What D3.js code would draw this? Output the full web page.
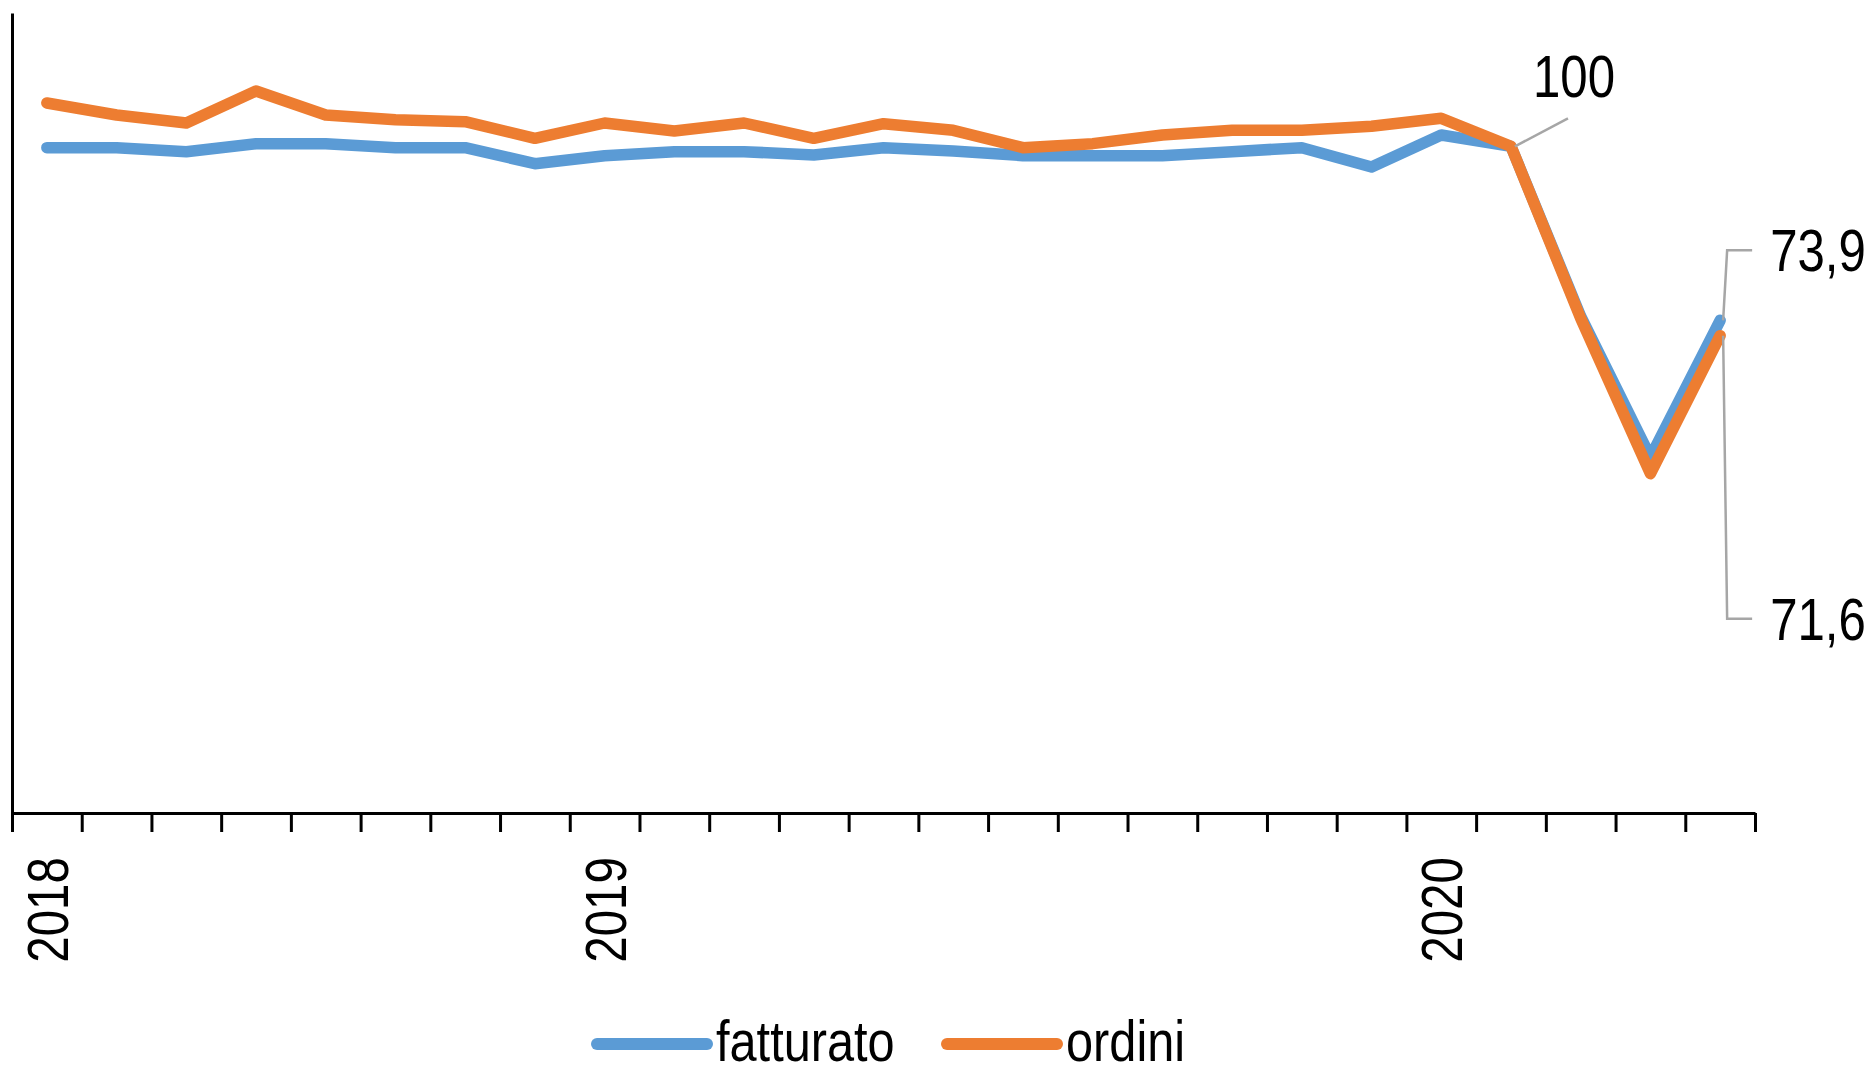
<!DOCTYPE html>
<html>
<head>
<meta charset="utf-8">
<title>fatturato e ordini</title>
<script src="https://d3js.org/d3.v7.min.js"></script>
<style>
  body { margin: 0; background: #fff; }
  text { font-family: "Liberation Sans Narrow", "Arial Narrow", "Liberation Sans", sans-serif; fill: #000; }
  .axis path, .axis line { stroke: #000; stroke-width: 3; }
  .serie { fill: none; stroke-width: 11.5; stroke-linecap: round; stroke-linejoin: round; }
  .leader { fill: none; stroke: #a6a6a6; stroke-width: 2.5; }
</style>
</head>
<body>
<div id="chart"></div>
<script>
// etichette dell'asse x (una per mese, solo gli anni sono mostrati)
var categorie = ["2018","","","","","","","","2019","","","","","","","","","","","","2020","","","",""];

// indici (feb 2020 = 100)
var fatturato = [99.8, 99.8, 99.2, 100.4, 100.4, 99.8, 99.8, 97.4, 98.6, 99.2, 99.2, 98.7, 99.8,
                 99.3, 98.6, 98.6, 98.6, 99.2, 99.8, 96.9, 101.7, 100, 74.5, 53.4, 73.9];
var ordini    = [106.5, 104.7, 103.5, 108.3, 104.7, 104.0, 103.7, 101.2, 103.5, 102.3, 103.5, 101.2, 103.4,
                 102.4, 99.8, 100.4, 101.7, 102.4, 102.4, 103.0, 104.2, 100, 74.2, 50.9, 71.6];

var serie = [
  {nome: "fatturato", valori: fatturato, colore: "#5b9bd5"},
  {nome: "ordini", valori: ordini, colore: "#ed7d31"}
];

(function() {
var W = 1872, H = 1073;
var svg = d3.select("#chart").append("svg").attr("width", W).attr("height", H);

var mLeft = 12, mRight = 1755, mBottom = 813, mTop = 13;
var narrow = "scale(0.82,1)"; // carattere stretto (Arial Narrow)

var x = d3.scaleBand().domain(d3.range(categorie.length)).range([mLeft, mRight]).padding(0);
var xEdge = d3.scaleLinear().domain([0, categorie.length]).range([mLeft, mRight]);
var y = d3.scaleLinear().domain([0, 120]).range([mBottom, mTop]);

function cx(i) { return x(i) + x.bandwidth() / 2; }

// asse y (solo la linea)
svg.append("g")
  .attr("class", "axis")
  .attr("transform", "translate(" + mLeft + ",0)")
  .call(d3.axisLeft(y).tickValues([]).tickSizeOuter(0));

// asse x con tacche tra le categorie
svg.append("g")
  .attr("class", "axis")
  .attr("transform", "translate(0," + mBottom + ")")
  .call(d3.axisBottom(xEdge).tickValues(d3.range(categorie.length + 1)).tickSize(19).tickSizeOuter(0).tickFormat(""));

svg.selectAll(".anno")
  .data(categorie.map(function(c, i) { return {c: c, i: i}; }).filter(function(d) { return d.c; }))
  .enter()
  .append("text")
  .attr("class", "anno")
  .attr("transform", function(d) { return "translate(" + (cx(d.i) + 21) + ",857) rotate(-90) " + narrow; })
  .attr("text-anchor", "end")
  .style("font-size", "58px")
  .text(function(d) { return d.c; });

var line = d3.line()
  .x(function(d, i) { return cx(i); })
  .y(function(d) { return y(d); });

svg.selectAll(".serie")
  .data(serie)
  .enter()
  .append("path")
  .attr("class", "serie")
  .attr("stroke", function(d) { return d.colore; })
  .attr("d", function(d) { return line(d.valori); });

// etichette dei dati
var n = categorie.length - 1;
var iBase = 21;
var pb = [cx(iBase), y(ordini[iBase])];
svg.append("path").attr("class", "leader")
  .attr("d", "M" + (pb[0] + 4) + "," + pb[1] + "L" + (pb[0] + 57) + "," + (pb[1] - 28));
svg.append("text")
  .attr("transform", "translate(" + (pb[0] + 22) + "," + (pb[1] - 49) + ") " + narrow)
  .style("font-size", "60px")
  .text(d3.format(".0f")(ordini[iBase]));

var fmt = function(v) { return d3.format(".1f")(v).replace(".", ","); };
var pe = [
  {v: fatturato[n], dy: -70},
  {v: ordini[n], dy: 283}
];
pe.forEach(function(p) {
  var px = cx(n), py = y(p.v), ly = py + p.dy;
  svg.append("path").attr("class", "leader")
    .attr("d", "M" + (px + 3) + "," + py + "L" + (px + 7) + "," + ly + "L" + (px + 32) + "," + ly);
  svg.append("text")
    .attr("transform", "translate(" + (px + 50) + "," + (ly + 21) + ") " + narrow)
    .style("font-size", "60px")
    .text(fmt(p.v));
});

// legenda
var legenda = svg.selectAll(".leg")
  .data(serie)
  .enter()
  .append("g")
  .attr("class", "leg")
  .attr("transform", function(d, i) { return "translate(" + [597, 947][i] + ",1044)"; });
legenda.append("line")
  .attr("x1", 0).attr("x2", 110)
  .attr("stroke", function(d) { return d.colore; })
  .attr("stroke-width", 12)
  .attr("stroke-linecap", "round");
legenda.append("text")
  .attr("transform", "translate(119,17) scale(0.84,1)")
  .style("font-size", "58px")
  .text(function(d) { return d.nome; });
})();
</script>
</body>
</html>
